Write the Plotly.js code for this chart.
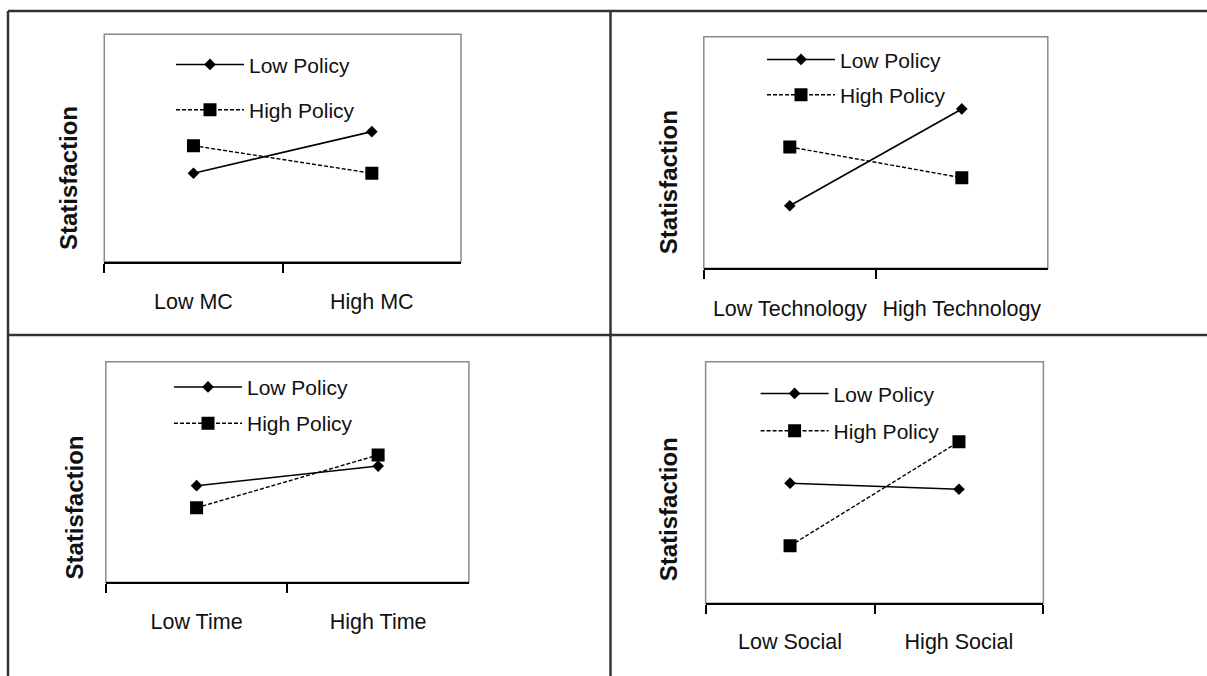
<!DOCTYPE html>
<html>
<head>
<meta charset="utf-8">
<script src="https://cdn.plot.ly/plotly-3.0.1.min.js"></script>
<style>
  html, body { margin: 0; padding: 0; background: #fff; }
  #chart { width: 1207px; height: 676px; }
</style>
</head>
<body>
<div id="chart"></div>
<script>
// ---------------- DATA ----------------
const seriesNames = ['Low Policy', 'High Policy'];
const yTitle = 'Statisfaction';

const mcCategories = ['Low MC', 'High MC'];
const mcLowPolicy = [3.89, 5.72];
const mcHighPolicy = [5.10, 3.89];

const techCategories = ['Low Technology', 'High Technology'];
const techLowPolicy = [2.70, 6.88];
const techHighPolicy = [5.24, 3.91];

const timeCategories = ['Low Time', 'High Time'];
const timeLowPolicy = [4.38, 5.27];
const timeHighPolicy = [3.38, 5.77];

const socialCategories = ['Low Social', 'High Social'];
const socialLowPolicy = [4.97, 4.72];
const socialHighPolicy = [2.38, 6.69];

// ---------------- LAYOUT HELPERS ----------------
const W = 1207, H = 676;
const FONT = '"Liberation Sans", Arial, sans-serif';
const px = x => x / W;
const py = y => 1 - y / H;

const panels = [
  { cats: mcCategories, low: mcLowPolicy, high: mcHighPolicy,
    box: [104.3, 34.3, 461, 261.7], legendMarkerX: 210, legendTop: 60.3, gap: 15, ytitle: [68, 178], standoff: 19 },
  { cats: techCategories, low: techLowPolicy, high: techHighPolicy,
    box: [703.8, 36.7, 1047.8, 268.3], legendMarkerX: 801, legendTop: 55.3, gap: 5, ytitle: [668.5, 181.7], standoff: 20 },
  { cats: timeCategories, low: timeLowPolicy, high: timeHighPolicy,
    box: [105.8, 361.7, 468.9, 582.3], legendMarkerX: 208, legendTop: 382.8, gap: 6, ytitle: [74, 507.5], standoff: 19 },
  { cats: socialCategories, low: socialLowPolicy, high: socialHighPolicy,
    box: [705.6, 361.7, 1043.4, 603.3], legendMarkerX: 794.6, legendTop: 389.3, gap: 7, ytitle: [668.3, 509], standoff: 18 }
];

const traces = [];
const layout = {
  width: W, height: H,
  margin: { l: 0, r: 0, t: 0, b: 0 },
  paper_bgcolor: '#ffffff',
  plot_bgcolor: 'rgba(0,0,0,0)',
  font: { family: FONT, size: 21, color: '#111' },
  showlegend: true,
  shapes: [],
  annotations: []
};

panels.forEach((p, i) => {
  const n = i + 1;
  const sfx = n === 1 ? '' : String(n);
  const xa = 'x' + sfx, ya = 'y' + sfx;
  const legName = n === 1 ? 'legend' : 'legend' + n;
  const [x0, y0, x1, y1] = p.box;

  traces.push({
    type: 'scatter', mode: 'lines+markers',
    x: p.cats, y: p.low, xaxis: xa, yaxis: ya,
    name: seriesNames[0], legend: legName, legendgroup: 'low' + n,
    line: { color: '#000', width: 1.6 },
    marker: { symbol: 'diamond', size: 9, color: '#000' },
    hoverinfo: 'x+y+name'
  });
  traces.push({
    type: 'scatter', mode: 'lines+markers',
    x: p.cats, y: p.high, xaxis: xa, yaxis: ya,
    name: seriesNames[1], legend: legName, legendgroup: 'high' + n,
    line: { color: '#000', width: 1.4, dash: '4px,2px' },
    marker: { symbol: 'square', size: 13, color: '#000' },
    hoverinfo: 'x+y+name'
  });

  layout['xaxis' + sfx] = {
    domain: [px(x0), px(x1)], anchor: ya,
    type: 'category', categoryorder: 'array', categoryarray: p.cats,
    range: [-0.5, 1.5], tickson: 'boundaries',
    ticks: 'outside', ticklen: 9, tickwidth: 2, tickcolor: '#000',
    showline: true, linecolor: '#000', linewidth: 2,
    showgrid: false, zeroline: false,
    tickfont: { family: FONT, size: 21.5, color: '#111' },
    ticklabelstandoff: p.standoff,
    fixedrange: true
  };
  layout['yaxis' + sfx] = {
    domain: [py(y1), py(y0)], anchor: xa,
    range: [0, 10],
    showticklabels: false, ticks: '', showgrid: false,
    zeroline: false, showline: false, fixedrange: true
  };

  // grey plot-area frame
  layout.shapes.push({
    type: 'rect', xref: xa + ' domain', yref: ya + ' domain',
    x0: 0, x1: 1, y0: 0, y1: 1,
    line: { color: '#8a8a8a', width: 1.5 }, layer: 'below'
  });

  // legend
  layout[legName] = {
    x: px(p.legendMarkerX - 39), xanchor: 'left',
    y: py(p.legendTop - 16), yanchor: 'top',
    bgcolor: 'rgba(0,0,0,0)', borderwidth: 0,
    itemwidth: 68, tracegroupgap: p.gap,
    font: { family: FONT, size: 21, color: '#111' },
    itemclick: false, itemdoubleclick: false
  };

  // y title
  layout.annotations.push({
    xref: 'paper', yref: 'paper', x: px(p.ytitle[0]), y: py(p.ytitle[1]),
    xanchor: 'center', yanchor: 'middle', textangle: -90, showarrow: false,
    text: yTitle,
    font: { family: FONT, size: 24, color: '#111', weight: 'bold' }
  });
});

// outer table borders
const borderStyle = { color: '#333', width: 2.5 };
[
  [8, 11, W, 11],        // top
  [8, 11, 8, H],         // left
  [610.5, 11, 610.5, H], // middle vertical
  [8, 335, W, 335]       // middle horizontal
].forEach(([ax, ay, bx, by]) => {
  layout.shapes.push({
    type: 'line', xref: 'paper', yref: 'paper',
    x0: px(ax), y0: py(ay), x1: px(bx), y1: py(by),
    line: borderStyle, layer: 'above'
  });
});

Plotly.newPlot('chart', traces, layout, { displayModeBar: false, responsive: false });
</script>
</body>
</html>
